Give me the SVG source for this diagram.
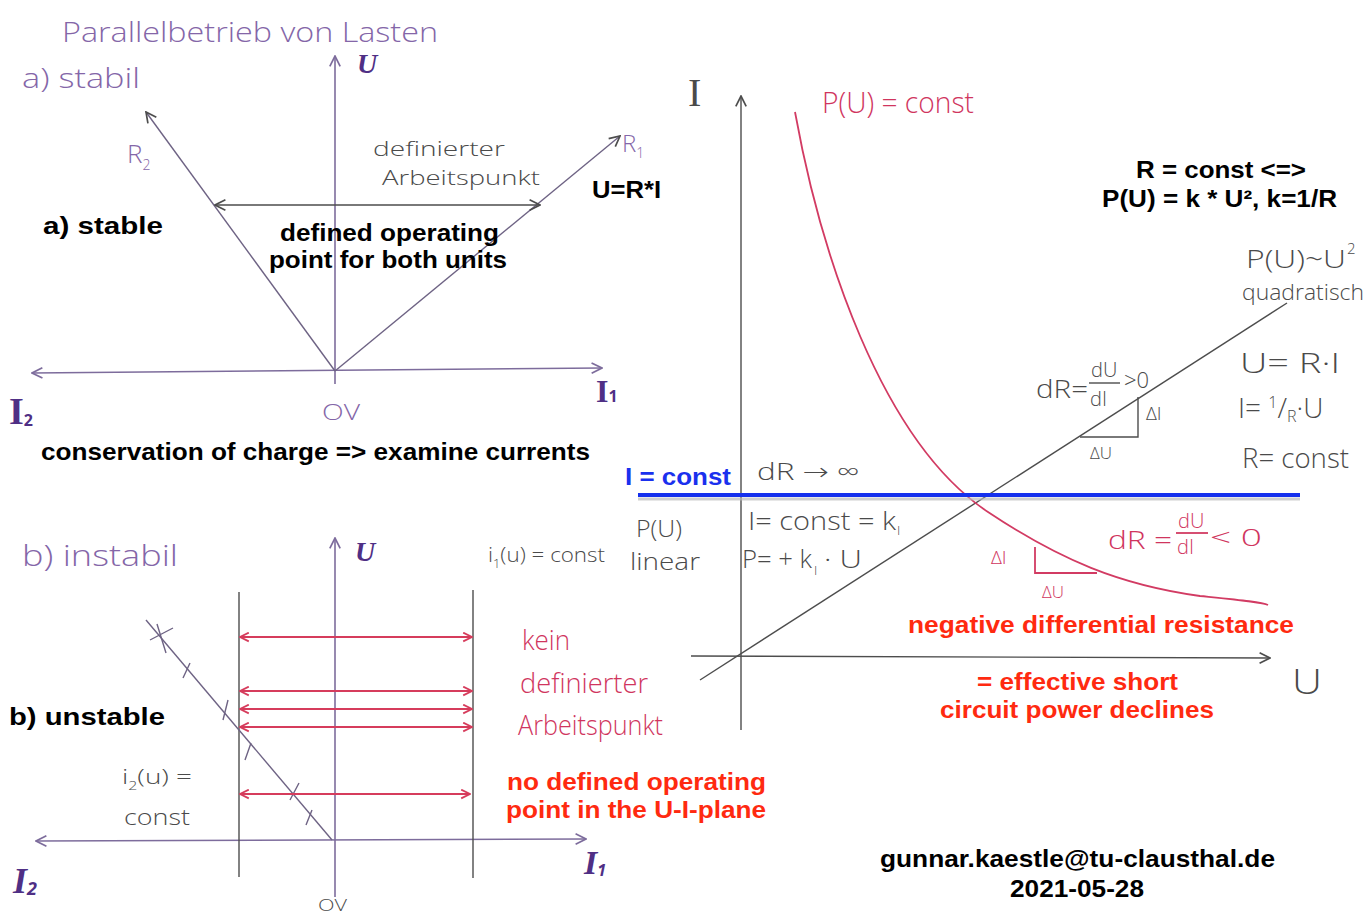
<svg xmlns="http://www.w3.org/2000/svg" width="1371" height="917" viewBox="0 0 1371 917">
<defs>
<style>
.t{font-family:"Liberation Sans",Arial,sans-serif;font-weight:bold;font-size:24px;fill:#000}
.tr{fill:#ff2a10}
.tb{fill:#1a30ee}
.h{font-family:"Open Sans","DejaVu Sans",sans-serif;font-weight:300}
.hp{fill:#8466a8}
.hk{fill:#4a4a4a}
.hr{fill:#d0355e}
.big{font-family:"Liberation Serif",serif;font-weight:bold;fill:#4f2f85}
.ax{stroke:#7d6c9c;stroke-width:1.6;fill:none}
.rl{stroke:#6e6384;stroke-width:1.4;fill:none}
.ln{stroke:#4d4d4d;stroke-width:1.4;fill:none}
.rd{stroke:#d63c5c;stroke-width:2;fill:none}
.rc{stroke:#d23b63;stroke-width:1.8;fill:none}
</style>
<marker id="ap" viewBox="0 0 10 10" refX="9" refY="5" markerWidth="13" markerHeight="13" markerUnits="userSpaceOnUse" orient="auto-start-reverse"><path d="M1,1 L9,5 L1,9" fill="none" stroke="#7d6c9c" stroke-width="1.3"/></marker>
<marker id="ak" viewBox="0 0 10 10" refX="9" refY="5" markerWidth="13" markerHeight="13" markerUnits="userSpaceOnUse" orient="auto-start-reverse"><path d="M1,1 L9,5 L1,9" fill="none" stroke="#4d4d4d" stroke-width="1.3"/></marker>
<marker id="ar" viewBox="0 0 10 10" refX="9" refY="5" markerWidth="11" markerHeight="11" markerUnits="userSpaceOnUse" orient="auto-start-reverse"><path d="M1,1 L9,5 L1,9" fill="none" stroke="#d63c5c" stroke-width="1.6"/></marker>
</defs>
<rect width="1371" height="917" fill="#fff"/>

<g id="panel-a">
<text class="h hp" x="62" y="42" font-size="28" textLength="376" lengthAdjust="spacingAndGlyphs">Parallelbetrieb von Lasten</text>
<text class="h hp" x="22" y="88" font-size="28" textLength="118" lengthAdjust="spacingAndGlyphs">a) stabil</text>
<line class="ax" x1="335" y1="384" x2="335" y2="56" marker-end="url(#ap)"/>
<text class="big" x="357" y="73" font-size="28" font-style="italic">U</text>
<line class="ax" x1="32" y1="373" x2="602" y2="368" marker-start="url(#ap)" marker-end="url(#ap)"/>
<line class="rl" x1="335" y1="371" x2="146" y2="112" marker-end="url(#ak)"/>
<line class="rl" x1="335" y1="371" x2="620" y2="136" marker-end="url(#ak)"/>
<text class="h hp" x="127" y="163" font-size="26">R<tspan font-size="14" dy="7">2</tspan></text>
<text class="h hp" x="622" y="152" font-size="24">R<tspan font-size="14" dy="6">1</tspan></text>
<line class="ln" x1="215" y1="205" x2="540" y2="205" marker-start="url(#ak)" marker-end="url(#ak)"/>
<text class="h hk" x="373" y="156" font-size="20" textLength="132" lengthAdjust="spacingAndGlyphs">definierter</text>
<text class="h hk" x="382" y="185" font-size="20" textLength="158" lengthAdjust="spacingAndGlyphs">Arbeitspunkt</text>
<text class="big" x="9" y="424" font-size="38">I<tspan font-size="16" dy="2" font-family="Open Sans,sans-serif">2</tspan></text>
<text class="big" x="596" y="402" font-size="32">I<tspan font-size="16" dy="0" font-family="Open Sans,sans-serif">1</tspan></text>
<text class="h hp" x="322" y="420" font-size="22" textLength="38" lengthAdjust="spacingAndGlyphs">OV</text>
<text class="t" x="43" y="234" textLength="120" lengthAdjust="spacingAndGlyphs">a) stable</text>
<text class="t" x="280" y="241" textLength="219" lengthAdjust="spacingAndGlyphs">defined operating</text>
<text class="t" x="269" y="268" textLength="238" lengthAdjust="spacingAndGlyphs">point for both units</text>
<text class="t" x="592" y="198" textLength="69" lengthAdjust="spacingAndGlyphs">U=R*I</text>
<text class="t" x="41" y="460" textLength="549" lengthAdjust="spacingAndGlyphs">conservation of charge =&gt; examine currents</text>
</g>

<g id="panel-b">
<text class="h hp" x="22" y="566" font-size="30" textLength="156" lengthAdjust="spacingAndGlyphs">b) instabil</text>
<line class="ax" x1="335" y1="897" x2="335" y2="538" marker-end="url(#ap)"/>
<text class="big" x="355" y="561" font-size="28" font-style="italic">U</text>
<line class="ax" x1="36" y1="841" x2="586" y2="839" marker-start="url(#ap)" marker-end="url(#ap)"/>
<text class="big" x="13" y="893" font-size="36" font-style="italic">I<tspan font-size="18" dy="2" font-family="Open Sans,sans-serif">2</tspan></text>
<text class="big" x="584" y="874" font-size="34" font-style="italic">I<tspan font-size="16" dy="2" font-family="Open Sans,sans-serif">1</tspan></text>
<text class="h hk" x="318" y="911" font-size="17" textLength="29" lengthAdjust="spacingAndGlyphs">OV</text>
<line class="ln" x1="239" y1="592" x2="239" y2="877"/>
<line class="ln" x1="473" y1="590" x2="473" y2="878"/>
<line class="rl" x1="146" y1="620" x2="332" y2="840"/>
<g class="rl">
<path d="M150,640 L173,628 M157,624 L166,653 M183,678 L190,663 M223,720 L228,700 M245,760 L251,743 M290,800 L299,783 M306,825 L312,810"/>
</g>
<g id="red-arrows">
<line class="rd" x1="240" y1="637" x2="472" y2="637" marker-start="url(#ar)" marker-end="url(#ar)"/>
<line class="rd" x1="240" y1="691" x2="472" y2="691" stroke-width="2.6" marker-start="url(#ar)" marker-end="url(#ar)"/>
<line class="rd" x1="240" y1="709" x2="472" y2="709" stroke-width="2.6" marker-start="url(#ar)" marker-end="url(#ar)"/>
<line class="rd" x1="240" y1="727" x2="472" y2="727" stroke-width="2.6" marker-start="url(#ar)" marker-end="url(#ar)"/>
<line class="rd" x1="240" y1="794" x2="470" y2="794" marker-start="url(#ar)" marker-end="url(#ar)"/>
</g>
<text class="h hk" x="488" y="562" font-size="21" textLength="117" lengthAdjust="spacingAndGlyphs">i<tspan font-size="12" dy="6">1</tspan><tspan dy="-6">(u) = const</tspan></text>
<text class="h hk" x="122" y="784" font-size="21" textLength="70" lengthAdjust="spacingAndGlyphs">i<tspan font-size="12" dy="6">2</tspan><tspan dy="-6">(u) =</tspan></text>
<text class="h hk" x="124" y="825" font-size="22" textLength="66" lengthAdjust="spacingAndGlyphs">const</text>
<text class="h hr" x="522" y="650" font-size="28" textLength="48" lengthAdjust="spacingAndGlyphs">kein</text>
<text class="h hr" x="520" y="693" font-size="28" textLength="128" lengthAdjust="spacingAndGlyphs">definierter</text>
<text class="h hr" x="518" y="735" font-size="28" textLength="145" lengthAdjust="spacingAndGlyphs">Arbeitspunkt</text>
<text class="t" x="9" y="725" textLength="156" lengthAdjust="spacingAndGlyphs">b) unstable</text>
<text class="t tr" x="507" y="790" textLength="259" lengthAdjust="spacingAndGlyphs">no defined operating</text>
<text class="t tr" x="506" y="818" textLength="260" lengthAdjust="spacingAndGlyphs">point in the U-I-plane</text>
</g>

<g id="panel-c">
<line class="ln" x1="741" y1="730" x2="741" y2="96" marker-end="url(#ak)"/>
<text x="688" y="106" font-size="40" font-family="Liberation Serif,serif" fill="#4a4a4a">I</text>
<line class="ln" x1="691" y1="656" x2="1270" y2="658" marker-end="url(#ak)"/>
<text class="h hk" x="1292" y="694" font-size="34" textLength="30" lengthAdjust="spacingAndGlyphs">U</text>
<line class="ln" x1="700" y1="680" x2="1287" y2="303"/>
<path class="rc" d="M795,112 C820,250 880,440 988,512 C1060,560 1120,585 1200,596 C1240,600 1262,602 1268,605"/>
<text class="h hr" x="822" y="113" font-size="30" textLength="152" lengthAdjust="spacingAndGlyphs">P(U) = const</text>
<line x1="638" y1="499" x2="1300" y2="499" stroke="#bbb" stroke-width="3" opacity="0.7"/>
<line x1="638" y1="495" x2="1300" y2="495" stroke="#1530ee" stroke-width="4"/>
<text class="t tb" x="625" y="485" textLength="106" lengthAdjust="spacingAndGlyphs">I = const</text>
<text class="t" x="1136" y="178" textLength="170" lengthAdjust="spacingAndGlyphs">R = const &lt;=&gt;</text>
<text class="t" x="1102" y="207" textLength="235" lengthAdjust="spacingAndGlyphs">P(U) = k * U², k=1/R</text>
<text class="h hk" x="1246" y="268" font-size="25" textLength="100" lengthAdjust="spacingAndGlyphs">P(U)~U</text>
<text class="h hk" x="1347" y="254" font-size="15">2</text>
<text class="h hk" x="1242" y="300" font-size="22" textLength="122" lengthAdjust="spacingAndGlyphs">quadratisch</text>
<text class="h hk" x="1240" y="373" font-size="28" textLength="100" lengthAdjust="spacingAndGlyphs">U= R·I</text>
<text class="h hk" x="1238" y="418" font-size="28">I= <tspan font-size="16" dy="-10">1</tspan><tspan dy="10">/</tspan><tspan font-size="16" dy="4">R</tspan><tspan dy="-4">·U</tspan></text>
<text class="h hk" x="1242" y="468" font-size="28" textLength="107" lengthAdjust="spacingAndGlyphs">R= const</text>
<text class="h hk" x="1036" y="398" font-size="26" textLength="52" lengthAdjust="spacingAndGlyphs">dR=</text>
<text class="h hk" x="1091" y="377" font-size="20">dU</text>
<line class="ln" x1="1089" y1="383" x2="1120" y2="383"/>
<text class="h hk" x="1090" y="406" font-size="20">dI</text>
<text class="h hk" x="1124" y="388" font-size="22">&gt;0</text>
<path class="ln" d="M1080,437 L1138,437 L1138,397"/>
<text class="h hk" x="1146" y="420" font-size="19">ΔI</text>
<text class="h hk" x="1090" y="459" font-size="17">ΔU</text>
<text class="h hk" x="757" y="480" font-size="24" textLength="102" lengthAdjust="spacingAndGlyphs">dR → ∞</text>
<text class="h hk" x="636" y="537" font-size="24" textLength="46" lengthAdjust="spacingAndGlyphs">P(U)</text>
<text class="h hk" x="630" y="570" font-size="24" textLength="70" lengthAdjust="spacingAndGlyphs">linear</text>
<text class="h hk" x="748" y="530" font-size="26" textLength="148" lengthAdjust="spacingAndGlyphs">I= const = k</text>
<text class="h hk" x="897" y="535" font-size="13">I</text>
<text class="h hk" x="742" y="568" font-size="26" textLength="70" lengthAdjust="spacingAndGlyphs">P= + k</text>
<text class="h hk" x="814" y="575" font-size="13">I</text>
<text class="h hk" x="824" y="568" font-size="26" textLength="38" lengthAdjust="spacingAndGlyphs">· U</text>
<text class="h hr" x="1108" y="549" font-size="26" textLength="64" lengthAdjust="spacingAndGlyphs">dR =</text>
<text class="h hr" x="1178" y="528" font-size="20">dU</text>
<line class="rc" x1="1176" y1="533" x2="1208" y2="533"/>
<text class="h hr" x="1177" y="554" font-size="20">dI</text>
<text class="h hr" x="1210" y="546" font-size="24" textLength="52" lengthAdjust="spacingAndGlyphs">&lt; 0</text>
<path class="rc" d="M1035,547 L1035,573 L1097,573"/>
<text class="h hr" x="991" y="564" font-size="19">ΔI</text>
<text class="h hr" x="1042" y="598" font-size="17">ΔU</text>
<text class="t tr" x="908" y="633" textLength="386" lengthAdjust="spacingAndGlyphs">negative differential resistance</text>
<text class="t tr" x="977" y="690" textLength="201" lengthAdjust="spacingAndGlyphs">= effective short</text>
<text class="t tr" x="940" y="718" textLength="274" lengthAdjust="spacingAndGlyphs">circuit power declines</text>
<text class="t" x="880" y="867" textLength="395" lengthAdjust="spacingAndGlyphs">gunnar.kaestle@tu-clausthal.de</text>
<text class="t" x="1010" y="897" textLength="134" lengthAdjust="spacingAndGlyphs">2021-05-28</text>
</g>
</svg>
